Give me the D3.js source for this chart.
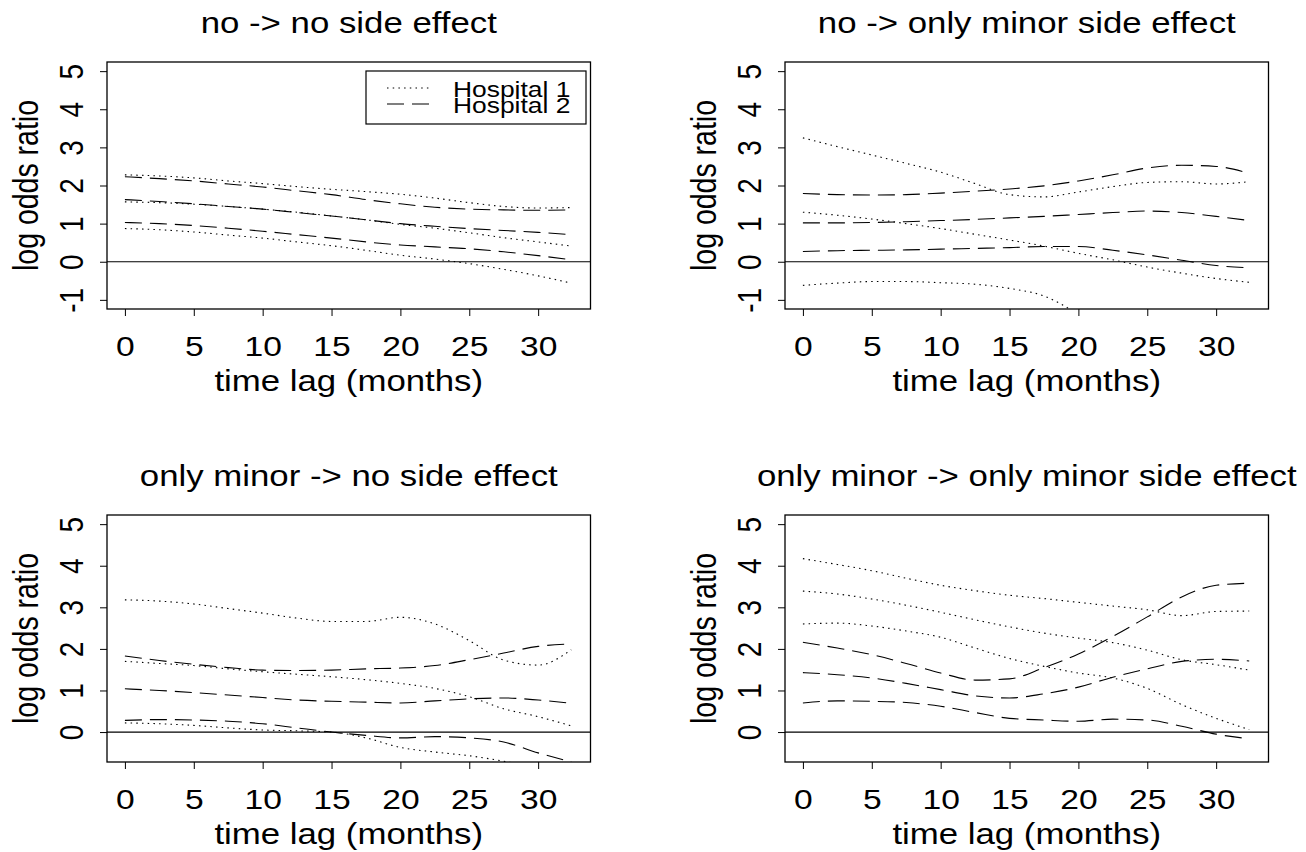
<!DOCTYPE html>
<html>
<head>
<meta charset="utf-8">
<script src="https://d3js.org/d3.v7.min.js"></script>
<style>
  body { margin: 0; background: #fff; }
  svg { font-family: "Liberation Sans", Arial, Helvetica, sans-serif; }
</style>
</head>
<body>
<svg id="chart" width="1306" height="852"></svg>
<script>
// time points (months) the curves were read at
var months = [0, 2.5, 5, 7.5, 10, 12.5, 15, 17.5, 20, 22.5, 25, 27.5, 30, 32.4];
var xTicks = [0, 5, 10, 15, 20, 25, 30];
var xlim = [0, 32.5];

var titles = ["no -> no side effect", "no -> only minor side effect",
              "only minor -> no side effect", "only minor -> only minor side effect"];
var legendLabels = ["Hospital 1", "Hospital 2"];

// no -> no side effect
var nnH1Up  = [2.28, 2.25, 2.2, 2.12, 2.05, 1.97, 1.9, 1.84, 1.77, 1.67, 1.55, 1.45, 1.41, 1.42];
var nnH1Est = [1.57, 1.55, 1.51, 1.45, 1.38, 1.3, 1.2, 1.1, 0.98, 0.88, 0.76, 0.63, 0.52, 0.41];
var nnH1Lo  = [0.87, 0.84, 0.78, 0.7, 0.62, 0.52, 0.42, 0.3, 0.17, 0.07, -0.05, -0.2, -0.37, -0.56];
var nnH2Up  = [2.23, 2.18, 2.12, 2.04, 1.96, 1.86, 1.76, 1.63, 1.52, 1.43, 1.38, 1.36, 1.35, 1.36];
var nnH2Est = [1.63, 1.58, 1.52, 1.45, 1.38, 1.29, 1.2, 1.1, 1.0, 0.93, 0.87, 0.82, 0.77, 0.71];
var nnH2Lo  = [1.03, 1.0, 0.95, 0.88, 0.8, 0.71, 0.62, 0.52, 0.44, 0.39, 0.34, 0.26, 0.16, 0.05];

// no -> only minor side effect
var nmH1Up  = [3.25, 3.02, 2.8, 2.58, 2.35, 2.05, 1.76, 1.7, 1.83, 1.97, 2.08, 2.1, 2.04, 2.1];
var nmH1Est = [1.3, 1.22, 1.12, 1.0, 0.87, 0.72, 0.57, 0.41, 0.22, 0.05, -0.14, -0.3, -0.44, -0.54];
var nmH1Lo  = [-0.62, -0.56, -0.52, -0.52, -0.55, -0.59, -0.7, -0.9, -1.38];
var nmH2Up  = [1.79, 1.76, 1.75, 1.76, 1.8, 1.85, 1.91, 1.99, 2.12, 2.28, 2.46, 2.53, 2.5, 2.32];
var nmH2Est = [1.02, 1.02, 1.03, 1.05, 1.08, 1.11, 1.15, 1.19, 1.24, 1.29, 1.33, 1.29, 1.19, 1.08];
var nmH2Lo  = [0.27, 0.29, 0.3, 0.31, 0.33, 0.35, 0.37, 0.4, 0.4, 0.3, 0.18, 0.04, -0.1, -0.16];

// only minor -> no side effect
var mnH1Up  = [3.18, 3.15, 3.08, 2.97, 2.86, 2.74, 2.66, 2.66, 2.76, 2.6, 2.2, 1.73, 1.61, 1.98];
var mnH1Est = [1.7, 1.65, 1.6, 1.52, 1.45, 1.39, 1.33, 1.26, 1.17, 1.05, 0.85, 0.56, 0.37, 0.15];
var mnH1Lo  = [0.22, 0.2, 0.16, 0.1, 0.05, 0.03, 0.0, -0.14, -0.37, -0.48, -0.57, -0.7, -0.86];
var mnH2Up  = [1.83, 1.72, 1.63, 1.55, 1.49, 1.48, 1.49, 1.52, 1.54, 1.6, 1.74, 1.9, 2.06, 2.12];
var mnH2Est = [1.04, 1.0, 0.95, 0.89, 0.83, 0.77, 0.74, 0.72, 0.7, 0.75, 0.8, 0.82, 0.77, 0.69];
var mnH2Lo  = [0.28, 0.3, 0.29, 0.26, 0.2, 0.1, 0.0, -0.08, -0.14, -0.11, -0.14, -0.24, -0.5, -0.72];

// only minor -> only minor side effect
var mmH1Up  = [4.17, 4.03, 3.88, 3.7, 3.53, 3.4, 3.29, 3.21, 3.12, 3.03, 2.94, 2.8, 2.9, 2.91];
var mmH1Est = [3.39, 3.32, 3.2, 3.05, 2.88, 2.7, 2.53, 2.38, 2.26, 2.15, 1.97, 1.74, 1.62, 1.49];
var mmH1Lo  = [2.6, 2.62, 2.55, 2.43, 2.28, 2.02, 1.77, 1.58, 1.42, 1.3, 1.05, 0.66, 0.33, 0.06];
var mmH2Up  = [2.16, 2.02, 1.86, 1.65, 1.42, 1.25, 1.28, 1.55, 1.88, 2.3, 2.77, 3.25, 3.53, 3.58];
var mmH2Est = [1.43, 1.38, 1.3, 1.17, 1.02, 0.87, 0.82, 0.92, 1.08, 1.32, 1.52, 1.7, 1.75, 1.71];
var mmH2Lo  = [0.7, 0.75, 0.74, 0.71, 0.62, 0.47, 0.33, 0.29, 0.26, 0.31, 0.29, 0.14, -0.05, -0.16];

var ylimTop = [-1, 5], ylimBottom = [-0.5, 5];
var yTicksTop = [-1, 0, 1, 2, 3, 4, 5], yTicksBottom = [0, 1, 2, 3, 4, 5];

var panels = [
  { title: titles[0], col: 0, row: 0, ylim: ylimTop, yTicks: yTicksTop, legend: true,
    h1: [nnH1Up, nnH1Est, nnH1Lo], h2: [nnH2Up, nnH2Est, nnH2Lo] },
  { title: titles[1], col: 1, row: 0, ylim: ylimTop, yTicks: yTicksTop,
    h1: [nmH1Up, nmH1Est, nmH1Lo], h2: [nmH2Up, nmH2Est, nmH2Lo] },
  { title: titles[2], col: 0, row: 1, ylim: ylimBottom, yTicks: yTicksBottom,
    h1: [mnH1Up, mnH1Est, mnH1Lo], h2: [mnH2Up, mnH2Est, mnH2Lo] },
  { title: titles[3], col: 1, row: 1, ylim: ylimBottom, yTicks: yTicksBottom,
    h1: [mmH1Up, mmH1Est, mmH1Lo], h2: [mmH2Up, mmH2Est, mmH2Lo] }
];

// plot regions (R-style boxes)
var boxLeft = [107, 785], boxTop = [62, 515];
var boxW = 483.5, boxH = 247;

var dotted = "1.5,4.2", dashed = "17,8";
// the source picture is a little wider than tall, text included
var stretch = "scale(1.2,1)";

// R pads the axis range by 4% on each side
function rExtend(lim) {
  var d = (lim[1] - lim[0]) * 0.04;
  return [lim[0] - d, lim[1] + d];
}

var svg = d3.select("#chart");
svg.append("rect").attr("width", 1306).attr("height", 852).attr("fill", "#fff");

panels.forEach(function(p, i) {
  var left = boxLeft[p.col], top = boxTop[p.row];

  var x = d3.scaleLinear().domain(rExtend(xlim)).range([0, boxW]);
  var y = d3.scaleLinear().domain(rExtend(p.ylim)).range([boxH, 0]);

  var g = svg.append("g").attr("transform", "translate(" + left + "," + top + ")");

  g.append("clipPath").attr("id", "clip" + i)
    .append("rect").attr("width", boxW).attr("height", boxH);

  // title
  g.append("text")
    .attr("transform", "translate(" + (boxW / 2) + ",-29) " + stretch)
    .attr("text-anchor", "middle")
    .style("font-size", "29px")
    .text(p.title);

  // x axis
  var xAxis = g.append("g")
    .attr("transform", "translate(0," + boxH + ")")
    .call(d3.axisBottom(x).tickValues(xTicks).tickSize(7).tickSizeOuter(0).tickPadding(20));
  xAxis.select(".domain").remove();
  xAxis.selectAll("text").style("font-size", "28px").attr("fill", "#000")
    .attr("transform", stretch);
  xAxis.selectAll("line").attr("stroke", "#000");

  g.append("text")
    .attr("transform", "translate(" + (boxW / 2) + "," + (boxH + 82) + ") " + stretch)
    .attr("text-anchor", "middle")
    .style("font-size", "29px")
    .text("time lag (months)");

  // y axis, labels rotated like R's las = 0
  var yAxis = g.append("g")
    .call(d3.axisLeft(y).tickValues(p.yTicks).tickSize(7).tickSizeOuter(0)
      .tickFormat(function(d) { return String(d); }));
  yAxis.select(".domain").remove();
  yAxis.selectAll("line").attr("stroke", "#000");
  yAxis.selectAll("text")
    .attr("x", null).attr("dy", null)
    .attr("text-anchor", "middle")
    .attr("dominant-baseline", "central")
    .attr("transform", "translate(-35,0) " + stretch + " rotate(-90)")
    .style("font-size", "28px")
    .attr("fill", "#000");

  g.append("text")
    .attr("transform", "translate(-80," + (boxH / 2) + ") " + stretch + " rotate(-90)")
    .attr("text-anchor", "middle")
    .attr("dominant-baseline", "central")
    .style("font-size", "28.5px")
    .text("log odds ratio");

  // curves
  var plot = g.append("g").attr("clip-path", "url(#clip" + i + ")");
  var line = d3.line()
    .x(function(d) { return x(d[0]); })
    .y(function(d) { return y(d[1]); })
    .curve(d3.curveMonotoneX);

  function drawSeries(vals, dash) {
    var pts = vals.map(function(v, k) { return [months[k], v]; });
    plot.append("path")
      .datum(pts)
      .attr("d", line)
      .attr("fill", "none")
      .attr("stroke", "#000")
      .attr("stroke-width", 1.1)
      .attr("stroke-dasharray", dash);
  }
  p.h1.forEach(function(s) { drawSeries(s, dotted); });
  p.h2.forEach(function(s) { drawSeries(s, dashed); });

  // reference line at 0
  plot.append("line")
    .attr("x1", 0).attr("x2", boxW)
    .attr("y1", y(0)).attr("y2", y(0))
    .attr("stroke", "#000").attr("stroke-width", 1.2);

  // box
  g.append("rect")
    .attr("width", boxW).attr("height", boxH)
    .attr("fill", "none").attr("stroke", "#000").attr("stroke-width", 1.3);

  if (p.legend) {
    var lg = g.append("g").attr("transform", "translate(259,9)");
    lg.append("rect").attr("width", 220).attr("height", 53)
      .attr("fill", "#fff").attr("stroke", "#000").attr("stroke-width", 1.2);
    [dotted, dashed].forEach(function(dash, k) {
      var ly = 17 + k * 16;
      lg.append("line")
        .attr("x1", 21).attr("x2", 66).attr("y1", ly).attr("y2", ly)
        .attr("stroke", "#000").attr("stroke-width", 1.1)
        .attr("stroke-dasharray", dash);
      lg.append("text")
        .attr("transform", "translate(87," + (ly + 9) + ") " + stretch)
        .style("font-size", "22px")
        .text(legendLabels[k]);
    });
  }
});
</script>
</body>
</html>
